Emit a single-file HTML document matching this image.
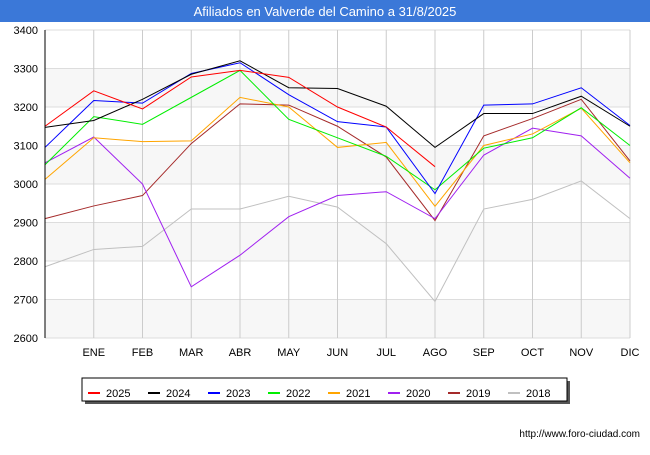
<!DOCTYPE html>
<html><head><meta charset="utf-8"><style>
body{margin:0;background:#fff;font-family:"Liberation Sans",sans-serif}
svg text{font-family:"Liberation Sans",sans-serif}
</style></head><body>
<svg width="650" height="450" xmlns="http://www.w3.org/2000/svg">
<rect x="0" y="0" width="650" height="22" fill="#3b78d8"/>
<text x="325" y="16" text-anchor="middle" fill="#fff" font-size="13">Afiliados en Valverde del Camino a 31/8/2025</text>
<g id="grid"></g>
<g id="series"></g>
<g id="axes"></g>
<g id="legend"></g>
<text x="640" y="437" text-anchor="end" font-size="10" fill="#000">http://www.foro-ciudad.com</text>
</svg>
<script>
const months=["","ENE","FEB","MAR","ABR","MAY","JUN","JUL","AGO","SEP","OCT","NOV","DIC"];
const yTicks=[2600,2700,2800,2900,3000,3100,3200,3300,3400];
const years=["2025","2024","2023","2022","2021","2020","2019","2018"];
const colors=["#ff0000","#000000","#0000ff","#00ee00","#ffa500","#a020f0","#a52a2a","#c0c0c0"];
const s2025=[3150,3242,3195,3278,3295,3277,3200,3148,3045];
const s2024=[3147,3165,3220,3285,3320,3250,3248,3202,3095,3183,3183,3228,3150];
const s2023=[3095,3217,3210,3287,3315,3232,3162,3148,2975,3205,3208,3250,3152];
const s2022=[3050,3175,3155,3225,3295,3168,3120,3072,2985,3093,3120,3198,3100];
const s2021=[3012,3120,3110,3112,3225,3200,3095,3108,2942,3100,3130,3197,3055];
const s2020=[3055,3122,3000,2733,2815,2915,2970,2980,2910,3075,3145,3125,3015];
const s2019=[2910,2943,2970,3105,3208,3205,3150,3070,2905,3125,3170,3220,3060];
const s2018=[2785,2830,2838,2935,2935,2968,2940,2845,2695,2935,2960,3008,2910];
const seriesData=[s2025,s2024,s2023,s2022,s2021,s2020,s2019,s2018];
const NS="http://www.w3.org/2000/svg";
const X0=45,X1=630,Y0=338,Y1=30,VMIN=2600,VMAX=3400;
const xs=i=>X0+i*(X1-X0)/(months.length-1);
const ys=v=>Y0-(v-VMIN)*(Y0-Y1)/(VMAX-VMIN);
function mk(tag,attrs,parent){const e=document.createElementNS(NS,tag);for(const k in attrs)e.setAttribute(k,attrs[k]);parent.appendChild(e);return e;}
const grid=document.getElementById('grid'),axes=document.getElementById('axes'),ser=document.getElementById('series'),leg=document.getElementById('legend');
for(let i=0;i<yTicks.length-1;i++){
 if(i%2===0){const r=mk('rect',{x:X0,y:ys(yTicks[i+1]),width:X1-X0,height:ys(yTicks[i])-ys(yTicks[i+1]),fill:'#f7f7f7'},grid);
 
 }
}
yTicks.forEach(v=>{const l=mk('line',{x1:X0,x2:X1,y1:ys(v),y2:ys(v),stroke:'#dddddd'},grid);
 
 
 const t=mk('text',{x:38,y:ys(v)+4,'text-anchor':'end','font-size':'11'},axes);t.textContent=v;
 
 });
months.forEach((m,i)=>{if(i===0)return;const l=mk('line',{x1:xs(i),x2:xs(i),y1:Y1,y2:Y0,stroke:'#cccccc'},grid);
 
 
 const t=mk('text',{x:xs(i),y:356,'text-anchor':'middle','font-size':'11'},axes);t.textContent=m;
 
 });
const ax=mk('line',{x1:X0,x2:X0,y1:Y1,y2:Y0,stroke:'#000'},axes);


for(let k=seriesData.length-1;k>=0;k--){
 const pts=seriesData[k].map((v,i)=>xs(i)+','+ys(v)).join(' ');
 const p=mk('polyline',{points:pts,fill:'none',stroke:colors[k],'stroke-width':'1'},ser);
 
 
}
const sh=mk('rect',{x:85,y:381,width:485,height:23,fill:'#555'},leg);


const box=mk('rect',{x:82,y:378,width:485,height:23,fill:'#fff',stroke:'#000'},leg);


years.forEach((y,i)=>{const bx=88+i*60;
 const l=mk('line',{x1:bx,x2:bx+12,y1:393,y2:393,stroke:colors[i],'stroke-width':'2'},leg);
 
 
 const t=mk('text',{x:bx+18,y:397,'font-size':'11'},leg);t.textContent=y;
 
 });
</script>
</body></html>
